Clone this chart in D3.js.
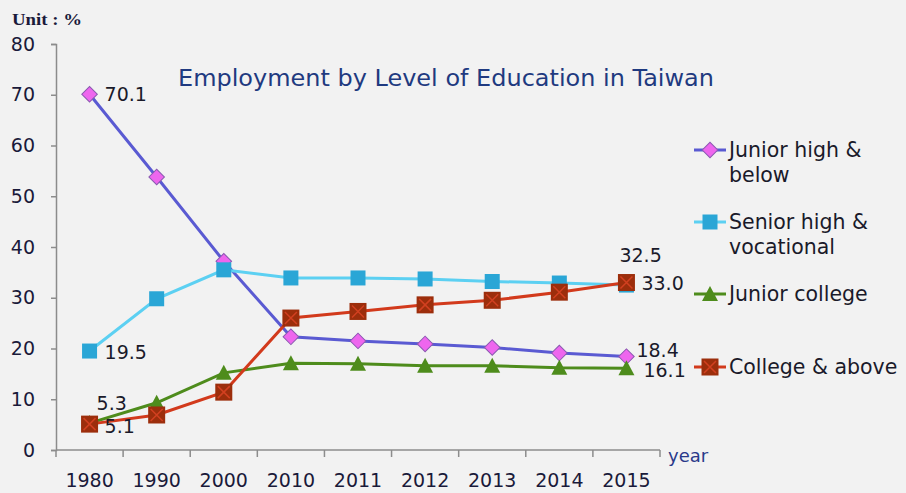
<!DOCTYPE html>
<html><head><meta charset="utf-8">
<script src="https://cdn.jsdelivr.net/npm/d3@7"></script>
<style>body{margin:0;background:#f2f2f2;}svg{display:block;}</style>
</head><body>
<script>
const years = ["1980","1990","2000","2010","2011","2012","2013","2014","2015"];
const juniorHigh = [70.1,53.8,37.2,22.3,21.5,20.9,20.2,19.1,18.4];
const seniorHigh = [19.5,29.8,35.5,33.9,33.9,33.7,33.2,32.9,32.5];
const juniorCollege = [5.3,9.3,15.2,17.1,17.0,16.6,16.6,16.2,16.1];
const collegeAbove = [5.1,6.9,11.4,26.0,27.3,28.6,29.5,31.1,33.0];
const yTicks = [0,10,20,30,40,50,60,70,80];

const W=906,H=493;
const svg=d3.select("body").append("svg").attr("width",W).attr("height",H);
svg.append("rect").attr("width",W).attr("height",H).attr("fill","#f2f2f2");
const font="'DejaVu Sans', Verdana, sans-serif";
const x=d3.scaleBand().domain(years).range([56,660]);
const y=d3.scaleLinear().domain([0,80]).range([450,44]);
const cx=d=>x(d)+x.bandwidth()/2;

const axisColor="#8c8c8c";
const yAx=svg.append("g").attr("transform","translate(56,0)")
  .call(d3.axisLeft(y).tickValues(yTicks).tickSize(5).tickPadding(16));
yAx.select(".domain").attr("stroke",axisColor).attr("stroke-width",1.5);
yAx.selectAll(".tick line").attr("stroke",axisColor).attr("stroke-width",1.5);
yAx.selectAll("text").attr("font-family",font).attr("font-size",19).attr("fill","#1a1a3a");

const xg=svg.append("g");
xg.append("line").attr("x1",56).attr("x2",660).attr("y1",450).attr("y2",450).attr("stroke",axisColor).attr("stroke-width",1.5);
const bounds=years.map(d=>x(d)).concat([660]);
xg.selectAll("line.t").data(bounds).join("line").attr("class","t")
  .attr("x1",d=>d).attr("x2",d=>d).attr("y1",450).attr("y2",457).attr("stroke",axisColor).attr("stroke-width",1.5);
xg.selectAll("text").data(years).join("text")
  .attr("x",cx).attr("y",487).attr("text-anchor","middle")
  .attr("font-family",font).attr("font-size",19).attr("fill","#1a1a3a").text(d=>d);

svg.append("text").attr("x",668).attr("y",462).attr("font-family",font).attr("font-size",18).attr("fill","#2a3a8a").text("year");
svg.append("text").attr("x",12).attr("y",25).attr("font-family","'Liberation Serif', serif").attr("font-size",16).attr("font-weight","bold")
  .attr("textLength",70).attr("lengthAdjust","spacingAndGlyphs").attr("fill","#1a1a3a").text("Unit : %");
svg.append("text").attr("x",178).attr("y",86).attr("font-family",font).attr("font-size",23.5)
  .attr("textLength",536).attr("lengthAdjust","spacingAndGlyphs").attr("fill","#1f3a80").text("Employment by Level of Education in Taiwan");

const series=[
 {name:["Junior high &","below"],vals:juniorHigh,line:"#5a5ad2",mk:"diamond",fill:"#ee66ee",stroke:"#8a5ab0",ly:150},
 {name:["Senior high &","vocational"],vals:seniorHigh,line:"#5cd0f2",mk:"square",fill:"#2aa6d6",stroke:"#2a90c0",ly:222},
 {name:["Junior college"],vals:juniorCollege,line:"#4e8c1c",mk:"triangle",fill:"#4e8c1c",stroke:"#4e8c1c",ly:294},
 {name:["College & above"],vals:collegeAbove,line:"#d23a1c",mk:"xsquare",fill:"#9c2e0c",stroke:"#7a2408",ly:367}
];
function marker(g,type,s){
  if(type==="diamond"){g.append("rect").attr("x",-5.5).attr("y",-5.5).attr("width",11).attr("height",11).attr("transform","rotate(45)")
      .attr("fill",s.fill).attr("stroke",s.stroke).attr("stroke-width",1);}
  else if(type==="square"){g.append("rect").attr("x",-7.5).attr("y",-7.5).attr("width",15).attr("height",15).attr("fill",s.fill);}
  else if(type==="triangle"){g.append("path").attr("d","M0,-8L8,7L-8,7Z").attr("fill",s.fill);}
  else {g.append("rect").attr("x",-8.5).attr("y",-8.5).attr("width",17).attr("height",17).attr("fill",s.fill);
        g.append("path").attr("d","M-6,-6L6,6M6,-6L-6,6").attr("stroke","#d24020").attr("stroke-width",1.5);}
}
const line=d3.line().x((d,i)=>cx(years[i])).y(d=>y(d));
series.forEach(s=>{
  svg.append("path").datum(s.vals).attr("d",line).attr("fill","none").attr("stroke",s.line).attr("stroke-width",3);
});
series.forEach(s=>{
  s.vals.forEach((v,i)=>{
    const g=svg.append("g").attr("transform",`translate(${cx(years[i])},${y(v)})`);
    marker(g,s.mk,s);
  });
});
const labels=[
 {s:0,i:0,dx:15,dy:7},
 {s:0,i:8,dx:10,dy:0},
 {s:1,i:0,dx:15,dy:8},
 {s:1,i:8,dx:-7,dy:-23},
 {s:2,i:0,dx:7,dy:-13},
 {s:2,i:8,dx:17,dy:9},
 {s:3,i:0,dx:15,dy:9},
 {s:3,i:8,dx:15,dy:7}
];
labels.forEach(l=>{
  const s=series[l.s];
  svg.append("text").attr("x",cx(years[l.i])+l.dx).attr("y",y(s.vals[l.i])+l.dy)
   .attr("font-family",font).attr("font-size",19).attr("fill","#1a1a2a").text(s.vals[l.i].toFixed(1));
});
series.forEach(s=>{
  const g=svg.append("g");
  g.append("line").attr("x1",694).attr("x2",726).attr("y1",s.ly).attr("y2",s.ly).attr("stroke",s.line).attr("stroke-width",3);
  const m=g.append("g").attr("transform",`translate(710,${s.ly})`);
  marker(m,s.mk,s);
  s.name.forEach((t,k)=>{
    g.append("text").attr("x",729).attr("y",s.ly+7+k*25).attr("font-family",font).attr("font-size",20.5).attr("fill","#1a1a2a").text(t);
  });
});
</script>
</body></html>
